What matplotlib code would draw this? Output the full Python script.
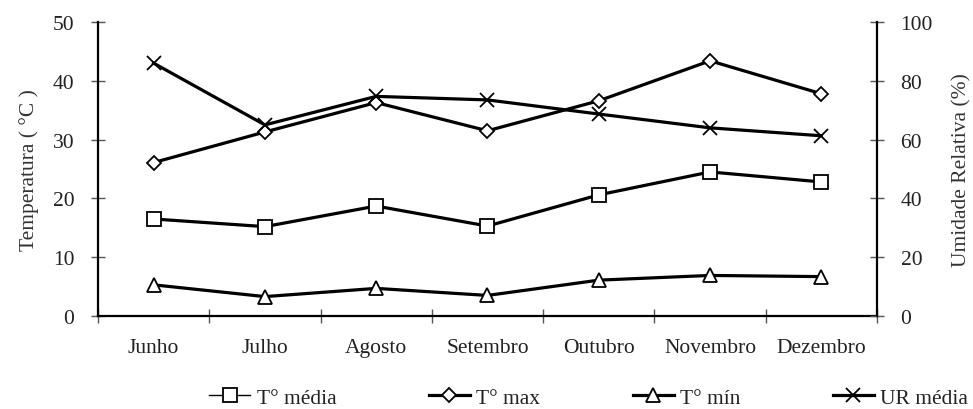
import matplotlib
matplotlib.use("Agg")
import matplotlib.pyplot as plt
from matplotlib.lines import Line2D

# ----- data -----
months = ["Junho", "Julho", "Agosto", "Setembro", "Outubro", "Novembro", "Dezembro"]
t_media = [16.5, 15.2, 18.7, 15.3, 20.6, 24.5, 22.8]
t_max = [26.1, 31.3, 36.3, 31.5, 36.6, 43.4, 37.8]
t_min = [5.3, 3.3, 4.7, 3.5, 6.1, 6.9, 6.7]
ur_media = [86.0, 65.0, 74.7, 73.5, 68.7, 64.0, 61.3]

plt.rcParams["font.family"] = ["Liberation Serif", "DejaVu Serif"]
TXT = "#222222"
FS = 15.5

fig = plt.figure(figsize=(9.73, 4.10), dpi=100)
ax = fig.add_axes([0.1007, 0.2268, 0.8006, 0.7171])
ax2 = ax.twinx()

x = [i + 0.5 for i in range(len(months))]
common = dict(color="black", linewidth=2.3, markerfacecolor="white",
              markeredgecolor="black", markeredgewidth=1.3)

l1, = ax.plot(x, t_media, marker="s", markersize=9.5, label="T° média", **common)
l2, = ax.plot(x, t_max, marker="D", markersize=7.5, label="T° max", **common)
l3, = ax.plot(x, t_min, marker="^", markersize=10, label="T° mín", **common)
l4, = ax2.plot(x, ur_media, marker="x", markersize=10, label="UR média", **common)

ax.set_xlim(0, 7)
ax.set_ylim(0, 50)
ax2.set_ylim(0, 100)
ax.set_yticks(range(0, 51, 10))
ax2.set_yticks(range(0, 101, 20))

# category labels between the boundary ticks
ax.set_xticks(range(0, 8))
ax.set_xticklabels([])
ax.set_xticks(x, minor=True)
ax.set_xticklabels(months, minor=True)
ax.tick_params(axis="x", which="minor", length=0, pad=16, labelsize=FS, labelcolor=TXT)
ax.tick_params(axis="x", which="major", direction="inout", length=10, width=1, color="#555555")
ax.tick_params(axis="y", direction="inout", length=10, width=1, color="#555555",
               labelsize=FS, labelcolor=TXT, pad=12)
ax2.tick_params(axis="y", direction="inout", length=10, width=1, color="#555555",
                labelsize=FS, labelcolor=TXT, pad=12)

for a in (ax, ax2):
    a.spines["top"].set_visible(False)
    for s in ("left", "right", "bottom"):
        a.spines[s].set_linewidth(1.6)
ax2.spines["left"].set_visible(False)
ax2.spines["bottom"].set_visible(False)
ax.spines["right"].set_visible(False)

ax.set_ylabel("Temperatura ( °C )", fontsize=FS, color="#333333", labelpad=10)
ax2.set_ylabel("Umidade Relativa (%)", fontsize=FS, color="#333333", labelpad=14)

# legend: T média drawn with a thin line in the key, as in the original
h1 = Line2D([], [], color="black", linewidth=1.0, marker="s", markersize=9.5,
            markerfacecolor="white", markeredgecolor="black", markeredgewidth=1.3)
fig.legend(handles=[h1, l2, l3, l4], labels=["T° média", "T° max", "T° mín", "UR média"],
           loc="center", bbox_to_anchor=(0.605, 0.028),
           ncol=4, frameon=False, fontsize=FS, handlelength=1.9, handletextpad=0.3,
           columnspacing=4.3, labelcolor=TXT)

fig.savefig("out.png", dpi=100)
